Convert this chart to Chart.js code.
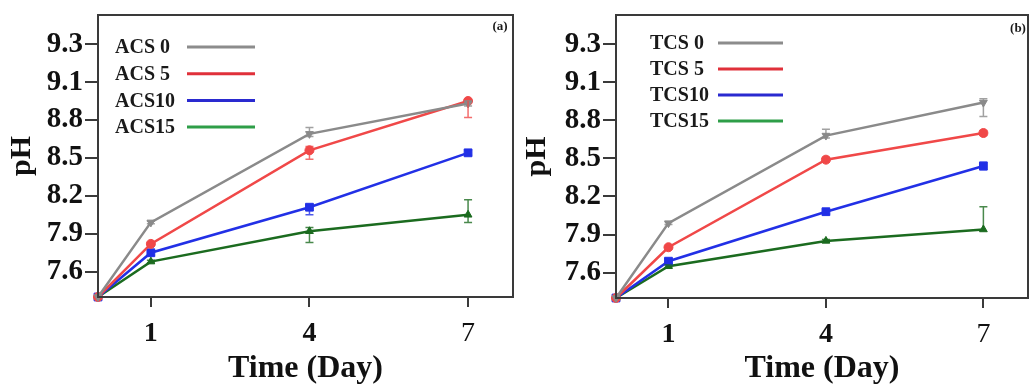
<!DOCTYPE html>
<html>
<head>
<meta charset="utf-8">
<script src="https://cdn.jsdelivr.net/npm/chart.js@4.4.1/dist/chart.umd.min.js"></script>
<style>
  body { margin: 0; background: #ffffff; }
  #wrap { position: relative; width: 1029px; height: 388px; overflow: hidden; }
  #wrap canvas { position: absolute; top: 0; }
  #graphA { left: 0; }
  #graphB { left: 515px; }
</style>
</head>
<body>
<div id="wrap">
  <canvas id="graphA" width="515" height="388"></canvas>
  <canvas id="graphB" width="514" height="388"></canvas>
</div>
<script>
// ========== DONNÉES ==========
const jours = [0, 1, 4, 7];
const xTicks = [1, 4, 7];
const yTicks = [7.6, 7.9, 8.2, 8.5, 8.8, 9.1, 9.4];
const yTickLabels = ['7.6', '7.9', '8.2', '8.5', '8.8', '9.1', '9.3'];

// panneau (a)
const labelsA = ['ACS 0', 'ACS 5', 'ACS10', 'ACS15'];
const acs0 = [7.40, 7.99, 8.69, 8.93];
const acs5 = [7.40, 7.82, 8.56, 8.95];
const acs10 = [7.40, 7.75, 8.11, 8.54];
const acs15 = [7.40, 7.68, 7.92, 8.05];

// barres d'erreur : nombre = symétrique, [bas, haut] sinon
const errAcs0 = [0, 0.01, [0.02, 0.05], 0.02];
const errAcs5 = [0, 0.01, [0.07, 0.03], [0.13, 0]];
const errAcs10 = [0, 0.02, [0.06, 0.02], 0.02];
const errAcs15 = [0, 0.01, [0.09, 0.03], [0.06, 0.12]];

// panneau (b)
const labelsB = ['TCS 0', 'TCS 5', 'TCS10', 'TCS15'];
const tcs0 = [7.40, 7.99, 8.68, 8.94];
const tcs5 = [7.40, 7.80, 8.49, 8.70];
const tcs10 = [7.40, 7.69, 8.08, 8.44];
const tcs15 = [7.40, 7.65, 7.85, 7.94];

const errTcs0 = [0, 0.01, [0.02, 0.05], [0.11, 0.03]];
const errTcs5 = [0, 0.01, 0.02, 0.02];
const errTcs10 = [0, 0.02, 0.02, 0.03];
const errTcs15 = [0, 0.01, 0.01, [0, 0.18]];

// ========== STYLES ==========
const police = "'Liberation Serif', 'Times New Roman', serif";
const couleurs = ['#8a8a8a', '#f04848', '#2230e6', '#1b6b1f'];
const couleursLegende = ['#8c8c8c', '#e0303a', '#2a2ad0', '#2e9e48'];
const formes = ['triangle', 'circle', 'rect', 'triangle'];
const rotations = [180, 0, 0, 0];
const rayons = [4.5, 4.5, 5.5, 4.5];

// Cadre autour de la zone de traçage
const cadrePlugin = {
    id: 'cadre',
    afterDraw: (chart) => {
        const ctx = chart.ctx;
        const a = chart.chartArea;
        ctx.save();
        ctx.strokeStyle = '#3a3a3a';
        ctx.lineWidth = 2;
        ctx.strokeRect(a.left, a.top, a.right - a.left, a.bottom - a.top);
        ctx.restore();
    }
};

// Barres d'erreur verticales avec petits chapeaux
const erreursPlugin = {
    id: 'erreurs',
    afterDatasetsDraw: (chart) => {
        const ctx = chart.ctx;
        const y = chart.scales.y;
        ctx.save();
        chart.data.datasets.forEach((ds, d) => {
            const meta = chart.getDatasetMeta(d);
            ds.erreurs.forEach((e, i) => {
                const bas = Array.isArray(e) ? e[0] : e;
                const haut = Array.isArray(e) ? e[1] : e;
                if (!bas && !haut) return;
                const px = meta.data[i].x;
                const v = ds.data[i].y;
                const y1 = y.getPixelForValue(v - bas);
                const y2 = y.getPixelForValue(v + haut);
                ctx.strokeStyle = ds.borderColor;
                ctx.globalAlpha = 0.8;
                ctx.lineWidth = 1.5;
                ctx.beginPath();
                ctx.moveTo(px, y1);
                ctx.lineTo(px, y2);
                if (bas) { ctx.moveTo(px - 4, y1); ctx.lineTo(px + 4, y1); }
                if (haut) { ctx.moveTo(px - 4, y2); ctx.lineTo(px + 4, y2); }
                ctx.stroke();
            });
        });
        ctx.restore();
    }
};

// Légende dessinée dans le coin haut gauche + lettre du panneau
const legendePlugin = {
    id: 'legendePanneau',
    afterDraw: (chart, args, opts) => {
        const ctx = chart.ctx;
        const a = chart.chartArea;
        ctx.save();
        ctx.font = 'bold 20px ' + police;
        ctx.textBaseline = 'middle';
        ctx.textAlign = 'left';
        chart.data.datasets.forEach((ds, i) => {
            const yy = a.top + opts.y0 + i * opts.dy;
            ctx.fillStyle = '#1a1a1a';
            ctx.fillText(ds.label, a.left + opts.x, yy + 1);
            ctx.strokeStyle = couleursLegende[i];
            ctx.lineWidth = 3;
            ctx.beginPath();
            ctx.moveTo(a.left + opts.ligne0, yy);
            ctx.lineTo(a.left + opts.ligne1, yy);
            ctx.stroke();
        });
        ctx.font = 'bold 13px ' + police;
        ctx.textAlign = 'center';
        ctx.fillStyle = '#1a1a1a';
        ctx.fillText(opts.lettre, a.right - opts.lettreX, a.top + opts.lettreY);
        ctx.restore();
    }
};

// Création d'un panneau
function creerGraphique(id, labels, series, erreurs, reglages) {
    const datasets = series.map((serie, i) => ({
        label: labels[i],
        data: jours.map((j, k) => ({ x: j, y: serie[k] })),
        erreurs: erreurs[i],
        borderColor: couleurs[i],
        backgroundColor: couleurs[i],
        borderWidth: 2.5,
        pointStyle: formes[i],
        pointRotation: rotations[i],
        pointRadius: rayons[i],
        pointBorderWidth: 1,
        pointBorderColor: couleurs[i],
        pointBackgroundColor: couleurs[i],
        tension: 0,
        clip: false
    }));

    return new Chart(document.getElementById(id), {
        type: 'line',
        data: { datasets: datasets },
        options: {
            responsive: false,
            animation: false,
            devicePixelRatio: 1,
            layout: {
                autoPadding: false,
                padding: { top: reglages.haut, right: reglages.droite, left: 0, bottom: 0 }
            },
            plugins: {
                legend: { display: false },
                tooltip: { enabled: false },
                legendePanneau: reglages.legende
            },
            scales: {
                x: {
                    type: 'linear',
                    min: 0,
                    max: 7.85,
                    afterBuildTicks: (s) => { s.ticks = xTicks.map(v => ({ value: v })); },
                    afterFit: (s) => {
                        s.height = reglages.basX;
                        s.paddingLeft = 0;
                        s.paddingRight = 0;
                    },
                    grid: {
                        drawOnChartArea: false,
                        tickLength: 10,
                        color: '#3a3a3a',
                        lineWidth: 2
                    },
                    border: { display: false },
                    ticks: {
                        color: '#111',
                        padding: 10,
                        autoSkip: false,
                        maxRotation: 0,
                        font: (c) => ({
                            family: police,
                            size: 28,
                            weight: c.tick && c.tick.value === 7 ? 'normal' : 'bold'
                        })
                    },
                    title: {
                        display: true,
                        text: 'Time (Day)',
                        color: '#111',
                        padding: 0,
                        font: { family: police, size: 32, weight: 'bold' }
                    }
                },
                y: {
                    type: 'linear',
                    min: 7.4,
                    max: 9.63,
                    afterBuildTicks: (s) => { s.ticks = yTicks.map(v => ({ value: v })); },
                    afterFit: (s) => {
                        s.width = reglages.largeurY;
                        s.paddingTop = 0;
                        s.paddingBottom = 0;
                    },
                    grid: {
                        drawOnChartArea: false,
                        tickLength: 13,
                        color: '#3a3a3a',
                        lineWidth: 2
                    },
                    border: { display: false },
                    ticks: {
                        color: '#111',
                        padding: 2,
                        callback: (v, i) => yTickLabels[i],
                        font: { family: police, size: 29, weight: 'bold' }
                    },
                    title: {
                        display: true,
                        text: 'pH',
                        color: '#111',
                        padding: { top: 4, bottom: 0 },
                        font: { family: police, size: 30, weight: 'bold' }
                    }
                }
            }
        },
        plugins: [cadrePlugin, erreursPlugin, legendePlugin]
    });
}

// ========== GRAPHIQUE ACS ==========
let graphA = creerGraphique('graphA', labelsA,
    [acs0, acs5, acs10, acs15],
    [errAcs0, errAcs5, errAcs10, errAcs15],
    {
        haut: 15,
        droite: 2,
        largeurY: 98,
        basX: 91,
        legende: { x: 17, ligne0: 89, ligne1: 157, y0: 32, dy: 26.7, lettre: '(a)', lettreX: 13, lettreY: 12 }
    });

// ========== GRAPHIQUE TCS ==========
let graphB = creerGraphique('graphB', labelsB,
    [tcs0, tcs5, tcs10, tcs15],
    [errTcs0, errTcs5, errTcs10, errTcs15],
    {
        haut: 15,
        droite: 1,
        largeurY: 101,
        basX: 90,
        legende: { x: 34, ligne0: 102, ligne1: 167, y0: 28, dy: 26, lettre: '(b)', lettreX: 10, lettreY: 14 }
    });
</script>
</body>
</html>
